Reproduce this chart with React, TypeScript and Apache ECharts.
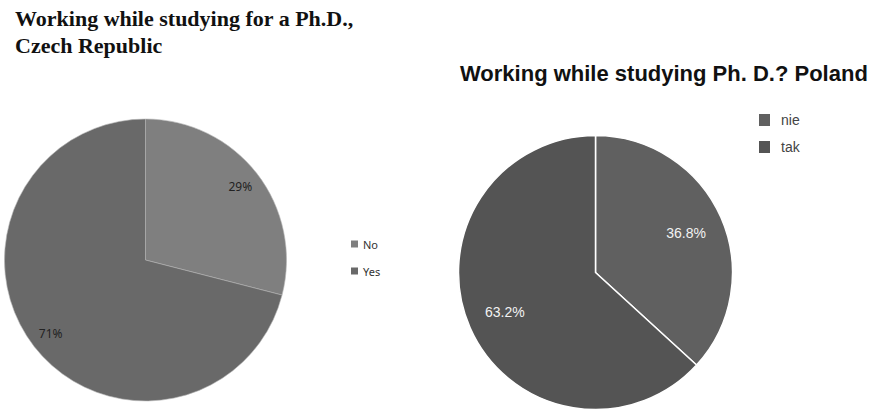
import React, { useEffect, useRef } from "react";
import * as echarts from "echarts";

// Czech Republic survey: working while studying for a Ph.D.
const czNames = ["No", "Yes"];
const czValues = [29, 71];
const czColors = ["#7f7f7f", "#696969"];

// Poland survey: working while studying Ph. D.?
const plNames = ["nie", "tak"];
const plValues = [36.8, 63.2];
const plColors = ["#606060", "#545454"];

const czTitle = "Working while studying for a Ph.D.,\nCzech Republic";
const plTitle = "Working while studying Ph. D.? Poland";

export default function App() {
  const ref = useRef<HTMLDivElement>(null);

  useEffect(() => {
    if (!ref.current) return;
    const chart = echarts.init(ref.current, null, { renderer: "svg" });

    const czData = czNames.map((name, i) => ({
      name,
      value: czValues[i],
      itemStyle: { color: czColors[i] },
    }));
    const plData = plNames.map((name, i) => ({
      name,
      value: plValues[i],
      itemStyle: { color: plColors[i] },
    }));

    // transparent ring used only to place the percentage labels further out
    const labelRing = (
      data: { name: string; value: number }[],
      center: number[],
      radius: number[],
      label: object
    ) => ({
      type: "pie",
      center,
      radius,
      silent: true,
      startAngle: 90,
      clockwise: true,
      data: data.map((d) => ({ name: d.name, value: d.value })),
      itemStyle: { color: "rgba(0,0,0,0)", borderWidth: 0 },
      label: { show: true, position: "inside", formatter: "{c}%", ...label },
      labelLine: { show: false },
      emphasis: { disabled: true },
      tooltip: { show: false },
    });

    chart.setOption({
      animation: false,
      backgroundColor: "#ffffff",
      title: [
        {
          text: czTitle,
          left: 10,
          top: 0,
          textStyle: {
            fontFamily: "Liberation Serif",
            fontWeight: "bold",
            fontSize: 22,
            lineHeight: 26.7,
            color: "#111",
          },
        },
        {
          text: plTitle,
          left: 455,
          top: 55,
          textStyle: {
            fontFamily: "Liberation Sans",
            fontWeight: "bold",
            fontSize: 22,
            lineHeight: 26,
            color: "#111",
          },
        },
      ],
      legend: [
        {
          data: czNames,
          orient: "vertical",
          left: 346,
          top: 233,
          itemWidth: 7,
          itemHeight: 7,
          itemGap: 15,
          icon: "rect",
          selectedMode: false,
          itemStyle: { borderWidth: 0 },
          textStyle: {
            fontFamily: "Noto Sans",
            fontSize: 11,
            lineHeight: 12,
            color: "#333",
          },
        },
        {
          data: plNames,
          orient: "vertical",
          left: 754,
          top: 107,
          itemWidth: 11,
          itemHeight: 12,
          itemGap: 11,
          icon: "rect",
          selectedMode: false,
          itemStyle: { borderWidth: 0 },
          textStyle: {
            fontFamily: "Liberation Sans",
            fontSize: 14,
            lineHeight: 16,
            color: "#444",
            padding: [0, 0, 0, 6],
          },
        },
      ],
      series: [
        {
          type: "pie",
          center: [145.5, 260],
          radius: [0, 141],
          startAngle: 90,
          clockwise: true,
          data: czData,
          itemStyle: { borderColor: "#b5b5b5", borderWidth: 0.6 },
          label: { show: false },
          labelLine: { show: false },
          emphasis: { disabled: true },
        },
        {
          type: "pie",
          center: [595.5, 272.5],
          radius: [0, 137],
          startAngle: 90,
          clockwise: true,
          data: plData,
          itemStyle: { borderColor: "#ffffff", borderWidth: 1.5 },
          label: { show: false },
          labelLine: { show: false },
          emphasis: { disabled: true },
        },
        labelRing(czData, [145.5, 260], [93, 141], {
          fontFamily: "Noto Sans",
          fontSize: 12,
          color: "#222",
        }),
        labelRing(plData, [595.5, 272.5], [55, 137], {
          fontFamily: "Liberation Sans",
          fontSize: 14,
          color: "#f2f2f2",
        }),
      ],
    });

    return () => chart.dispose();
  }, []);

  return (
    <div
      ref={ref}
      style={{ position: "fixed", left: 0, top: 0, width: 874, height: 409 }}
    />
  );
}
